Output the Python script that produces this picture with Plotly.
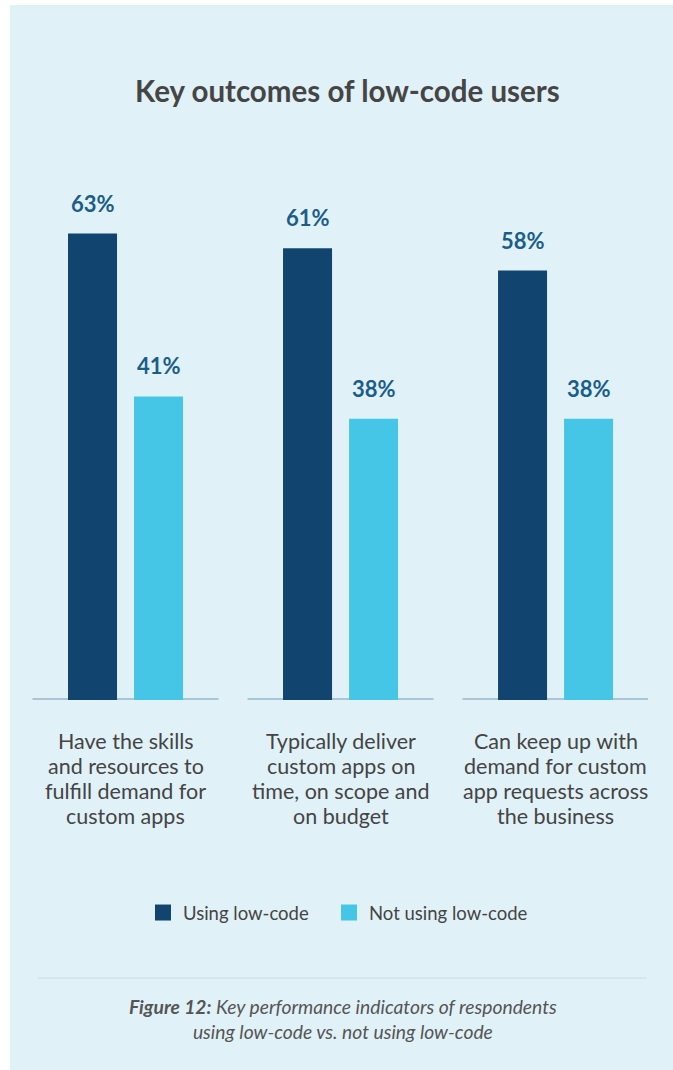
import plotly.graph_objects as go

categories = ["Have the skills<br>and resources to<br>fulfill demand for<br>custom apps",
              "Typically deliver<br>custom apps on<br>time, on scope and<br>on budget",
              "Can keep up with<br>demand for custom<br>app requests across<br>the business"]
using_low_code = [63, 61, 58]
not_using_low_code = [41, 38, 38]
series_names = ["Using low-code", "Not using low-code"]
colors = ["#11446f", "#46c6e6"]

W, H = 673, 1070
FONT = "Lato"

fig = go.Figure()
keys = ["c0", "c1", "c2"]
for vals, name, col in zip([using_low_code, not_using_low_code], series_names, colors):
    fig.add_trace(go.Bar(x=keys, y=vals, name=name, marker=dict(color=col, line=dict(width=0)),
                         showlegend=False, hoverinfo="skip"))
# legend proxies (one legend box each, to control spacing)
for name, col, lg in zip(series_names, colors, ["legend", "legend2"]):
    fig.add_trace(go.Scatter(x=[None], y=[None], mode="markers", name=name, legend=lg,
                             marker=dict(symbol="square", size=16, color=col)))

annotations = []
for i, k in enumerate(keys):
    for vals, shift in [(using_low_code, -33), (not_using_low_code, 33)]:
        annotations.append(dict(x=k, y=vals[i], xref="x", yref="y", text=f"<b>{vals[i]}%</b>",
                                showarrow=False, xshift=shift, yshift=15, yanchor="bottom",
                                font=dict(family=FONT, size=22, color="#1a5d8a")))
    for j, line in enumerate(categories[i].split("<br>")):
        annotations.append(dict(x=k, y=0, xref="x", yref="y", text=line, showarrow=False,
                                yanchor="middle", yshift=-(40.5 + 25.3 * j), align="center",
                                font=dict(family=FONT, size=21.5, color="#444444")))

annotations.append(dict(x=347.5 / W, y=1 - 90 / H, xref="paper", yref="paper",
                        text="<b>Key outcomes of low-code users</b>", showarrow=False,
                        xanchor="center", yanchor="middle",
                        font=dict(family=FONT, size=29.5, color="#454545")))
annotations.append(dict(x=343 / W, y=1 - 1018.5 / H, xref="paper", yref="paper",
                        text="<b><i>Figure 12:</i></b><i> Key performance indicators of respondents<br>using low-code vs. not using low-code</i>",
                        showarrow=False, xanchor="center", yanchor="middle", align="center",
                        font=dict(family=FONT, size=19.3, color="#555555")))

shapes = [dict(type="rect", xref="paper", yref="paper", x0=10 / W, x1=1, y0=0, y1=1 - 5 / H,
               fillcolor="#e1f1f8", line=dict(width=0), layer="below")]
for i in range(3):
    shapes.append(dict(type="line", xref="x", yref="y", x0=i - 0.4326, x1=i + 0.4326, y0=0, y1=0,
                       line=dict(color="#a9c6d6", width=4), layer="below"))
shapes.append(dict(type="line", xref="paper", yref="paper", x0=38 / W, x1=647 / W,
                   y0=1 - 978 / H, y1=1 - 978 / H, line=dict(color="#c9dce6", width=1)))

legend_common = dict(orientation="h", xanchor="left", y=1 - 913 / H, yanchor="middle",
                     font=dict(family=FONT, size=18.5, color="#444444"), bgcolor="rgba(0,0,0,0)",
                     itemclick=False, itemdoubleclick=False)

fig.update_layout(
    width=W, height=H, margin=dict(l=0, r=0, t=0, b=0),
    paper_bgcolor="white", plot_bgcolor="rgba(0,0,0,0)",
    barmode="group", bargap=0.386, bargroupgap=0.2576,
    xaxis=dict(domain=[32 / W, 648 / W], range=[-0.435, 2.430], showticklabels=False,
               showgrid=False, zeroline=False, showline=False, fixedrange=True),
    yaxis=dict(domain=[1 - 700 / H, 1 - 180 / H], range=[0, 70.23], showticklabels=False,
               showgrid=False, zeroline=False, showline=False, fixedrange=True),
    legend=dict(x=143 / W, **legend_common),
    legend2=dict(x=329 / W, **legend_common),
    annotations=annotations, shapes=shapes,
    font=dict(family=FONT),
)

fig.write_html("out.html")
